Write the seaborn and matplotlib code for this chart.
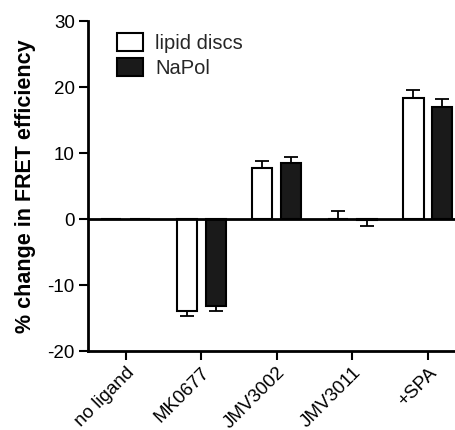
import matplotlib
matplotlib.use("Agg")
import matplotlib.pyplot as plt
import seaborn as sns
import pandas as pd
import numpy as np

categories = ["no ligand", "MK0677", "JMV3002", "JMV3011", "+SPA"]
series = ["lipid discs", "NaPol"]
lipid_vals = [0.0, -14.0, 7.8, 0.0, 18.3]
lipid_err = [0.0, 0.7, 1.0, 1.2, 1.2]
napol_vals = [0.0, -13.2, 8.5, -0.2, 17.0]
napol_err = [0.0, 0.8, 0.9, 0.9, 1.2]
colors = ["white", "#1a1a1a"]

sns.set_style("ticks")
plt.rcParams["font.family"] = ["Liberation Sans", "DejaVu Sans"]
plt.rcParams["axes.unicode_minus"] = False

df = pd.DataFrame({
    "cat": categories * 2,
    "series": [series[0]] * 5 + [series[1]] * 5,
    "val": lipid_vals + napol_vals,
})

fig = plt.figure(figsize=(4.55, 4.30), dpi=100)
ax = fig.add_axes([88 / 455, 1 - 351 / 430, 1 - 88 / 455, (351 - 21) / 430])

sns.barplot(data=df, x="cat", y="val", hue="series", order=categories,
            hue_order=series, palette=colors, width=0.76, gap=0.3,
            edgecolor="black", linewidth=1.5, errorbar=None, ax=ax,
            legend=True)

errs = [lipid_err, napol_err]
for cont, err in zip(ax.containers, errs):
    for bar, e in zip(cont, err):
        if e <= 0:
            continue
        h = bar.get_height()
        xc = bar.get_x() + bar.get_width() / 2
        if h >= 0:
            yerr = [[0], [e]]
        else:
            yerr = [[e], [0]]
        ax.errorbar([xc], [h], yerr=yerr, fmt="none", ecolor="black",
                    elinewidth=1.3, capsize=5, capthick=1.3, zorder=3)

ax.axhline(0, color="black", lw=2, zorder=4)
ax.set_ylim(-20, 30)
ax.set_xlim(-0.5, 4.36)
ax.set_yticks([-20, -10, 0, 10, 20, 30])
ax.set_xlabel("")
ax.set_ylabel("% change in FRET efficiency", fontsize=15.5, fontweight="bold",
              labelpad=8, color="black")
sns.despine(ax=ax, right=True, top=True)
ax.spines["left"].set_linewidth(2)
ax.spines["bottom"].set_linewidth(2)
ax.spines["left"].set_color("black")
ax.spines["bottom"].set_color("black")
ax.tick_params(axis="both", width=1.5, length=6.5, labelsize=13.5,
               color="black", labelcolor="black", pad=3)
plt.setp(ax.get_xticklabels(), rotation=45, ha="right", rotation_mode="anchor")

leg = ax.legend(loc="upper left", bbox_to_anchor=(0.079, 0.965), frameon=False,
                fontsize=14.5, handlelength=1.3, handleheight=1.05,
                handletextpad=0.6, labelspacing=0.25, borderaxespad=0,
                borderpad=0)
for p in leg.get_patches():
    p.set_edgecolor("black")
    p.set_linewidth(1.5)

fig.savefig("out.png", dpi=100)
